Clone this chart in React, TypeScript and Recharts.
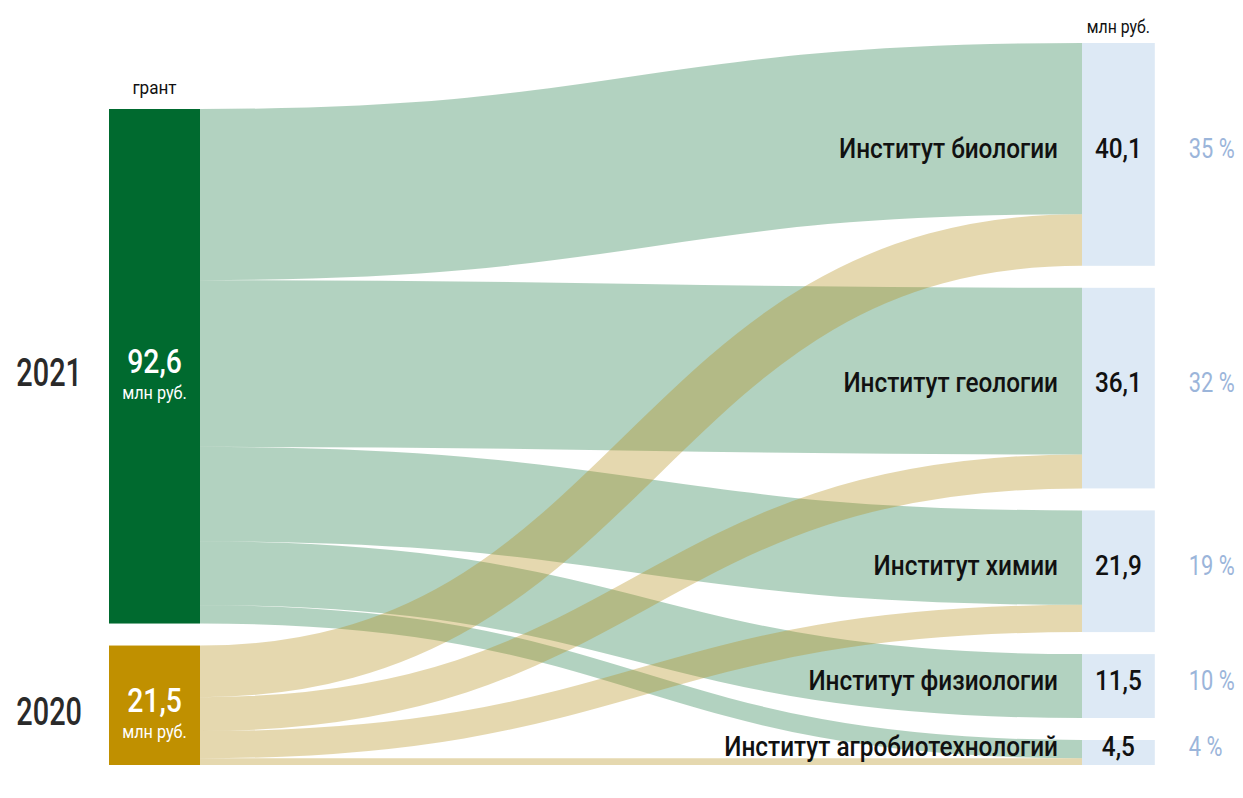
import React from 'react';
import { Sankey } from 'recharts';

const sources = ['2021', '2020'];
const sourceNotes = ['грант', ''];
const institutes = [
  'Институт биологии',
  'Институт геологии',
  'Институт химии',
  'Институт физиологии',
  'Институт агробиотехнологий',
];
const grant2021 = [30.8, 30.0, 17.0, 11.5, 3.3];
const grant2020 = [9.3, 6.1, 4.9, 0, 1.2];
const unitLabel = 'млн руб.';

const nodeColors: Record<string, string> = { '2021': '#006a2f', '2020': '#c09000' };
const linkColors: Record<string, string> = {
  '2021': 'rgba(0,107,47,0.3)',
  '2020': 'rgba(181,142,26,0.35)',
};
const instituteColor = '#dde9f5';

const nodes = [...sources.map((name) => ({ name })), ...institutes.map((name) => ({ name }))];
const links: { source: number; target: number; value: number }[] = [];
[grant2021, grant2020].forEach((series, s) => {
  series.forEach((v, t) => {
    if (v > 0) links.push({ source: s, target: sources.length + t, value: v });
  });
});
const total = grant2021.reduce((a, b) => a + b, 0) + grant2020.reduce((a, b) => a + b, 0);
const fmt = (v: number) => v.toFixed(1).replace('.', ',');

const FONT = 'Roboto, sans-serif';

// condensed-looking text (horizontal squeeze)
function CText({
  x,
  y,
  size,
  sx = 0.87,
  anchor = 'start',
  fill = '#111',
  weight = 400,
  children,
}: {
  x: number;
  y: number;
  size: number;
  sx?: number;
  anchor?: 'start' | 'middle' | 'end';
  fill?: string;
  weight?: number;
  children: React.ReactNode;
}) {
  return (
    <text
      transform={`translate(${x},${y}) scale(${sx},1)`}
      textAnchor={anchor}
      fill={fill}
      fontSize={size}
      fontWeight={weight}
      fontFamily={FONT}
    >
      {children}
    </text>
  );
}

function SankeyNode(props: any) {
  const { x, y, width, height, payload } = props;
  const name: string = payload.name;
  const srcIdx = sources.indexOf(name);
  if (srcIdx >= 0) {
    const cx = x + width / 2;
    const cy = y + height / 2;
    return (
      <g>
        <rect x={x} y={y} width={width} height={height} fill={nodeColors[name]} />
        <CText x={cx} y={cy + 7} size={33} sx={0.86} anchor="middle" fill="#fff" weight={500}>
          {fmt(payload.value)}
        </CText>
        <CText x={cx} y={cy + 33} size={18} sx={0.9} anchor="middle" fill="#fff">
          {unitLabel}
        </CText>
        <CText x={x - 27} y={cy + 20} size={38} sx={0.76} anchor="end" fill="#2a2a2a" weight={500}>
          {name}
        </CText>
        {sourceNotes[srcIdx] ? (
          <CText x={cx} y={y - 15} size={19} sx={0.9} anchor="middle">
            {sourceNotes[srcIdx]}
          </CText>
        ) : null}
      </g>
    );
  }
  const w = width * 0.8;
  const cy = y + height / 2;
  const instIdx = institutes.indexOf(name);
  return (
    <g>
      <rect x={x} y={y} width={w} height={height} fill={instituteColor} />
      <CText x={x + w / 2} y={cy + 4} size={28} anchor="middle" weight={500}>
        {fmt(payload.value)}
      </CText>
      <CText x={x - 24} y={cy + 4} size={28} anchor="end" weight={500}>
        {name}
      </CText>
      <CText x={x + w + 34} y={cy + 4} size={28} sx={0.78} anchor="start" fill="#9bb5da">
        {Math.round((payload.value / total) * 100) + ' %'}
      </CText>
      {instIdx === 0 ? (
        <CText x={x + w / 2} y={y - 10} size={18} sx={0.88} anchor="middle">
          {unitLabel}
        </CText>
      ) : null}
    </g>
  );
}

function SankeyLink(props: any) {
  const { sourceX, targetX, sourceY, targetY, sourceControlX, targetControlX, linkWidth, payload } = props;
  const src = payload.source.name;
  return (
    <path
      d={`M${sourceX},${sourceY}C${sourceControlX},${sourceY} ${targetControlX},${targetY} ${targetX},${targetY}`}
      fill="none"
      stroke={linkColors[src]}
      strokeWidth={linkWidth}
    />
  );
}

export default function App() {
  return (
    <div style={{ position: 'relative', width: 1243, height: 798, margin: -8 }}>
      <Sankey
        width={1243}
        height={798}
        data={{ nodes, links }}
        margin={{ top: 43, right: 70, bottom: 33, left: 109 }}
        nodeWidth={91}
        nodePadding={22}
        linkCurvature={0.5}
        iterations={32}
        sort={false}
        node={<SankeyNode />}
        link={<SankeyLink />}
      />
    </div>
  );
}
